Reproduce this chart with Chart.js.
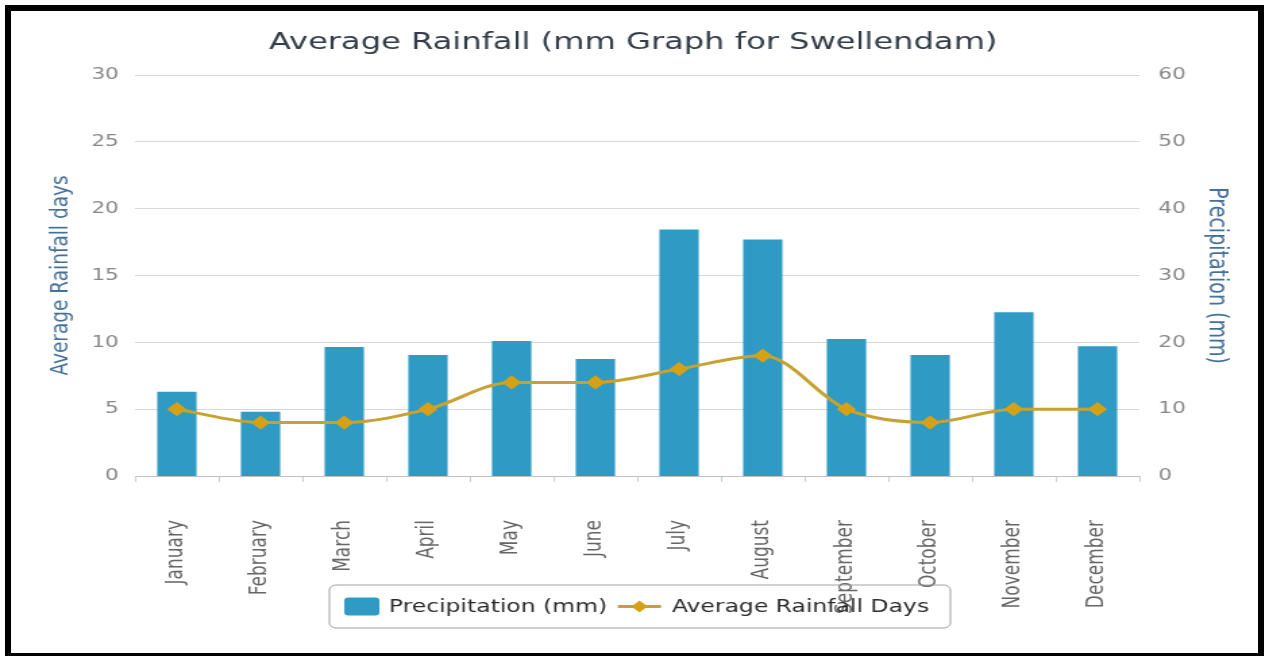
<!DOCTYPE html>
<html>
<head>
<meta charset="utf-8">
<script src="https://cdn.jsdelivr.net/npm/chart.js@4.4.0/dist/chart.umd.min.js"></script>
<style>
html,body{margin:0;padding:0;background:#fff;overflow:hidden;width:1266px;height:656px;}
#wrap{position:absolute;left:0;top:0;width:938px;height:656px;transform:scaleX(1.35);transform-origin:0 0;}
#frame{position:absolute;left:5px;top:5px;width:1259px;height:651px;border-left:6px solid #000;border-top:6px solid #000;border-right:6px solid #000;border-bottom:3px solid #000;box-sizing:border-box;pointer-events:none;}
</style>
</head>
<body>
<div id="wrap"><canvas id="c" width="938" height="656"></canvas></div>
<div id="frame"></div>
<script>
const months = ['January','February','March','April','May','June','July','August','September','October','November','December'];
const precipitationMm = [12.6, 9.6, 19.3, 18.1, 20.2, 17.5, 36.9, 35.4, 20.5, 18.1, 24.5, 19.4];
const rainfallDays = [5, 4, 4, 5, 7, 7, 8, 9, 5, 4, 5, 5];
const daysAxisMax = 30, daysAxisStep = 5;
const mmAxisMax = 60, mmAxisStep = 10;

const BAR = '#2f9bc4';
const LINE = '#c8a230';
const MARK = '#d6a116';
const FONT = "'DejaVu Sans', Verdana, sans-serif";

const legendPlugin = {
  id: 'boxLegend',
  afterDraw(chart) {
    const ctx = chart.ctx;
    ctx.save();
    const bx = 244, by = 585, bw = 460, bh = 43, cy = by + bh / 2;
    ctx.beginPath();
    ctx.roundRect(bx, by, bw, bh, 5);
    ctx.lineWidth = 1;
    ctx.strokeStyle = '#a0a0a0';
    ctx.stroke();
    ctx.font = '17.4px ' + FONT;
    ctx.textBaseline = 'middle';
    const ds = chart.data.datasets;
    ctx.beginPath();
    ctx.roundRect(255, cy - 9, 26, 18, 3);
    ctx.fillStyle = ds[0].backgroundColor;
    ctx.fill();
    ctx.fillStyle = '#2b2b2b';
    ctx.fillText(ds[0].label, 288, cy + 1);
    const w0 = ctx.measureText(ds[0].label).width;
    const lx = 288 + w0 + 8;
    ctx.beginPath();
    ctx.moveTo(lx, cy); ctx.lineTo(lx + 32, cy);
    ctx.strokeStyle = ds[1].borderColor; ctx.lineWidth = 3; ctx.stroke();
    ctx.beginPath();
    const mx = lx + 16;
    ctx.moveTo(mx, cy - 6); ctx.lineTo(mx + 6, cy); ctx.lineTo(mx, cy + 6); ctx.lineTo(mx - 6, cy); ctx.closePath();
    ctx.fillStyle = ds[1].pointBackgroundColor; ctx.fill();
    ctx.fillStyle = '#2b2b2b';
    ctx.fillText(ds[1].label, lx + 40, cy + 1);
    ctx.restore();
  }
};

new Chart(document.getElementById('c'), {
  data: {
    labels: months,
    datasets: [
      {
        type: 'bar', label: 'Precipitation (mm)', data: precipitationMm, yAxisID: 'mm',
        backgroundColor: BAR, borderWidth: 0, barPercentage: 0.47, categoryPercentage: 1, order: 2
      },
      {
        type: 'line', label: 'Average Rainfall Days', data: rainfallDays, yAxisID: 'days',
        borderColor: LINE, borderWidth: 3, cubicInterpolationMode: 'monotone',
        pointStyle: 'rectRot', pointRadius: 5, pointBackgroundColor: MARK, pointBorderColor: MARK,
        fill: false, order: 1
      }
    ]
  },
  options: {
    responsive: false,
    animation: false,
    devicePixelRatio: 1,
    layout: { padding: 0 },
    plugins: {
      legend: { display: false },
      tooltip: { enabled: false },
      title: {
        display: true, text: 'Average Rainfall (mm Graph for Swellendam)',
        color: '#333d48', font: { family: FONT, size: 23.8, weight: 'normal' },
        padding: { top: 29, bottom: 17.5 }
      }
    },
    scales: {
      x: {
        position: 'bottom',
        grid: { drawOnChartArea: false, drawTicks: true, tickLength: 6, color: '#c0d0e0', offset: true },
        border: { color: '#c0c0c0' },
        ticks: { maxRotation: 90, minRotation: 90, padding: 38, color: '#666', font: { family: FONT, size: 17 } },
        afterFit(s) { s.height = 180; }
      },
      days: {
        position: 'left', min: 0, max: daysAxisMax,
        ticks: { stepSize: daysAxisStep, padding: 12, color: '#888', font: { family: FONT, size: 16 } },
        grid: { color: '#d8d8d8', drawTicks: false },
        border: { display: false },
        title: { display: true, text: 'Average Rainfall days', color: '#44709c', font: { family: FONT, size: 18.5, weight: 'normal' }, padding: { top: 34, bottom: 0 } },
        afterFit(s) { s.width = 100; }
      },
      mm: {
        position: 'right', min: 0, max: mmAxisMax,
        ticks: { stepSize: mmAxisStep, padding: 14, color: '#888', font: { family: FONT, size: 16 } },
        grid: { display: false, drawTicks: false },
        border: { display: false },
        title: { display: true, text: 'Precipitation (mm)', color: '#44709c', font: { family: FONT, size: 19, weight: 'normal' }, padding: { top: 26, bottom: 0 } },
        afterFit(s) { s.width = 94; }
      }
    }
  },
  plugins: [legendPlugin]
});
</script>
</body>
</html>
